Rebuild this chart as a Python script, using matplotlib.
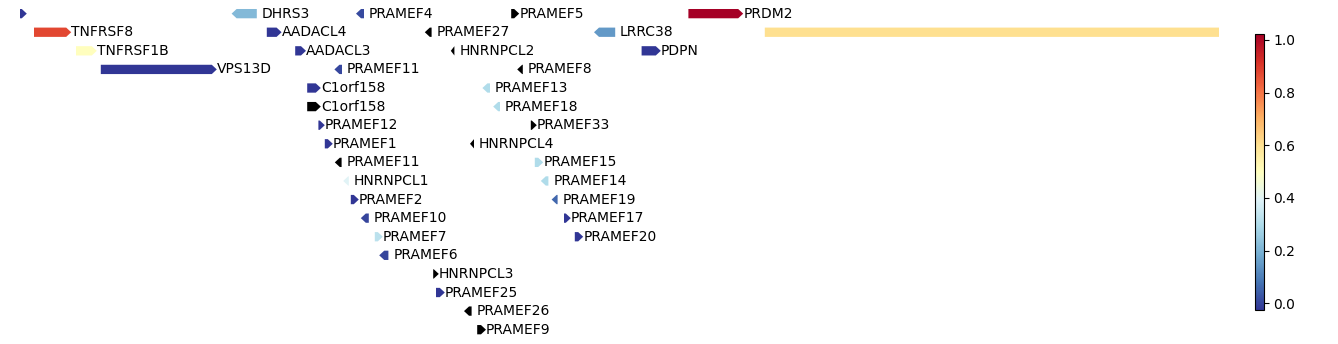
import numpy as np
import matplotlib
matplotlib.use("Agg")
import matplotlib.pyplot as plt
from matplotlib.colors import Normalize
from matplotlib.cm import ScalarMappable

# gene models: positions in kb, strand, score (nan = no score -> drawn black), track row
names = ["", "DHRS3", "PRAMEF4", "PRAMEF5", "PRDM2",
         "TNFRSF8", "AADACL4", "PRAMEF27", "LRRC38", "",
         "TNFRSF1B", "AADACL3", "HNRNPCL2", "PDPN",
         "VPS13D", "PRAMEF11", "PRAMEF8",
         "C1orf158", "PRAMEF13",
         "C1orf158", "PRAMEF18",
         "PRAMEF12", "PRAMEF33",
         "PRAMEF1", "HNRNPCL4",
         "PRAMEF11", "PRAMEF15",
         "HNRNPCL1", "PRAMEF14",
         "PRAMEF2", "PRAMEF19",
         "PRAMEF10", "PRAMEF17",
         "PRAMEF7", "PRAMEF20",
         "PRAMEF6", "HNRNPCL3", "PRAMEF25", "PRAMEF26", "PRAMEF9"]
starts = [12000, 12529, 12840, 13228, 13671,
          12035, 12617, 13012, 13435, 13862,
          12140, 12688, 13077, 13554,
          12202, 12786, 13243,
          12718, 13156,
          12718, 13183,
          12746, 13277,
          12762, 13125,
          12787, 13287,
          12808, 13302,
          12827, 13329,
          12852, 13360,
          12887, 13387,
          12898, 13033, 13040, 13110, 13143]
ends = [12017, 12592, 12860, 13248, 13808,
        12128, 12654, 13029, 13488, 15150,
        12192, 12715, 13086, 13602,
        12492, 12805, 13257,
        12752, 13175,
        12752, 13200,
        12762, 13292,
        12782, 13135,
        12804, 13308,
        12822, 13321,
        12847, 13344,
        12872, 13377,
        12907, 13408,
        12921, 13047, 13062, 13129, 13165]
strands = ["+", "-", "-", "+", "+",
           "+", "+", "-", "-", "+",
           "+", "+", "-", "+",
           "+", "-", "-",
           "+", "-",
           "+", "-",
           "+", "+",
           "+", "-",
           "-", "+",
           "-", "-",
           "+", "-",
           "-", "+",
           "+", "+",
           "-", "+", "+", "-", "+"]
nan = np.nan
scores = [-0.025, 0.215, 0.01, nan, 1.022,
          0.875, -0.025, nan, 0.15, 0.603,
          0.5, -0.025, nan, -0.025,
          -0.025, 0.005, nan,
          -0.025, 0.3,
          nan, 0.3,
          -0.025, nan,
          -0.025, nan,
          nan, 0.3,
          0.4, 0.3,
          -0.025, 0.06,
          0.0, -0.025,
          0.32, -0.025,
          0.0, nan, -0.025, nan, nan]
tracks = [0, 0, 0, 0, 0,
          1, 1, 1, 1, 1,
          2, 2, 2, 2,
          3, 3, 3,
          4, 4,
          5, 5,
          6, 6,
          7, 7,
          8, 8,
          9, 9,
          10, 10,
          11, 11,
          12, 12,
          13, 14, 15, 16, 17]

HEAD = 12.5      # kb
HEIGHT = 0.5     # track units
LABEL_GAP = 12   # kb, extra space after reverse-strand genes

cmap = plt.get_cmap("RdYlBu_r")
norm = Normalize(vmin=np.nanmin(scores), vmax=np.nanmax(scores))

fig = plt.figure(figsize=(13.38, 3.44), dpi=100)
ax = fig.add_axes([20 / 1338, 0, 1199 / 1338, 1])

for name, s, e, strand, score, row in zip(names, starts, ends, strands, scores, tracks):
    color = "black" if np.isnan(score) else cmap(norm(score))
    length = e - s
    hl = min(HEAD, length)
    if strand == "+":
        ax.arrow(s, row, length, 0, width=HEIGHT, head_width=HEIGHT, head_length=hl,
                 length_includes_head=True, color=color, linewidth=0)
        tx = e
    else:
        ax.arrow(e, row, -length, 0, width=HEIGHT, head_width=HEIGHT, head_length=hl,
                 length_includes_head=True, color=color, linewidth=0)
        tx = e + LABEL_GAP
    if name:
        ax.text(tx, row, name, fontsize=10, ha="left", va="center", clip_on=True)

ax.set_xlim(12000, 14997.5)
ax.set_ylim(17.77, -0.734)
ax.axis("off")

cax = fig.add_axes([1255 / 1338, 34 / 344, 8.5 / 1338, 276 / 344])
sm = ScalarMappable(norm=norm, cmap=cmap)
cb = fig.colorbar(sm, cax=cax, ticks=[0.0, 0.2, 0.4, 0.6, 0.8, 1.0])
cb.ax.tick_params(labelsize=10)

fig.savefig("out.png", dpi=100)
